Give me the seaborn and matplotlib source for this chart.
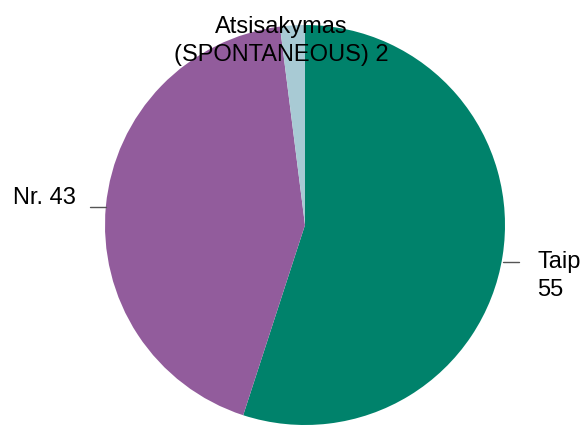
import matplotlib
matplotlib.use("Agg")
import matplotlib.pyplot as plt
import seaborn as sns
import numpy as np

labels = ["Taip", "Nr.", "Atsisakymas\n(SPONTANEOUS)"]
values = [55, 43, 2]
colors = ["#00826B", "#925C9C", "#A8CAD4"]

sns.set_theme(style="white")
plt.rcParams['font.family'] = ['Liberation Sans', 'DejaVu Sans']

W, H = 584, 426
fig = plt.figure(figsize=(W / 100, H / 100), dpi=100)
cx, cy, r = 305, 225, 200
ax = fig.add_axes([(cx - r) / W, (H - cy - r) / H, 2 * r / W, 2 * r / H])
ax.pie(values, colors=colors, startangle=90, counterclock=False, radius=1,
       wedgeprops=dict(linewidth=0))
ax.set_xlim(-1, 1)
ax.set_ylim(-1, 1)
ax.set_aspect('equal')
ax.axis('off')

fs = 17
# Taip
ax.plot([0.99, 1.07], [-0.185, -0.185], color="#555555", lw=1, clip_on=False)
ax.text(1.16, -0.255, f"{labels[0]}\n{values[0]}", ha='left', va='center',
        fontsize=fs, color='black', linespacing=1.3)
# Nr.
ax.plot([-1.075, -0.995], [0.09, 0.09], color="#555555", lw=1, clip_on=False)
ax.text(-1.145, 0.135, f"{labels[1]} {values[1]}", ha='right', va='center',
        fontsize=fs, color='black')
# Atsisakymas
ax.text(-0.12, 0.92, f"{labels[2]} {values[2]}", ha='center', va='center',
        fontsize=fs, color='black', multialignment='center', linespacing=1.3)

fig.savefig("out.png", dpi=100)
